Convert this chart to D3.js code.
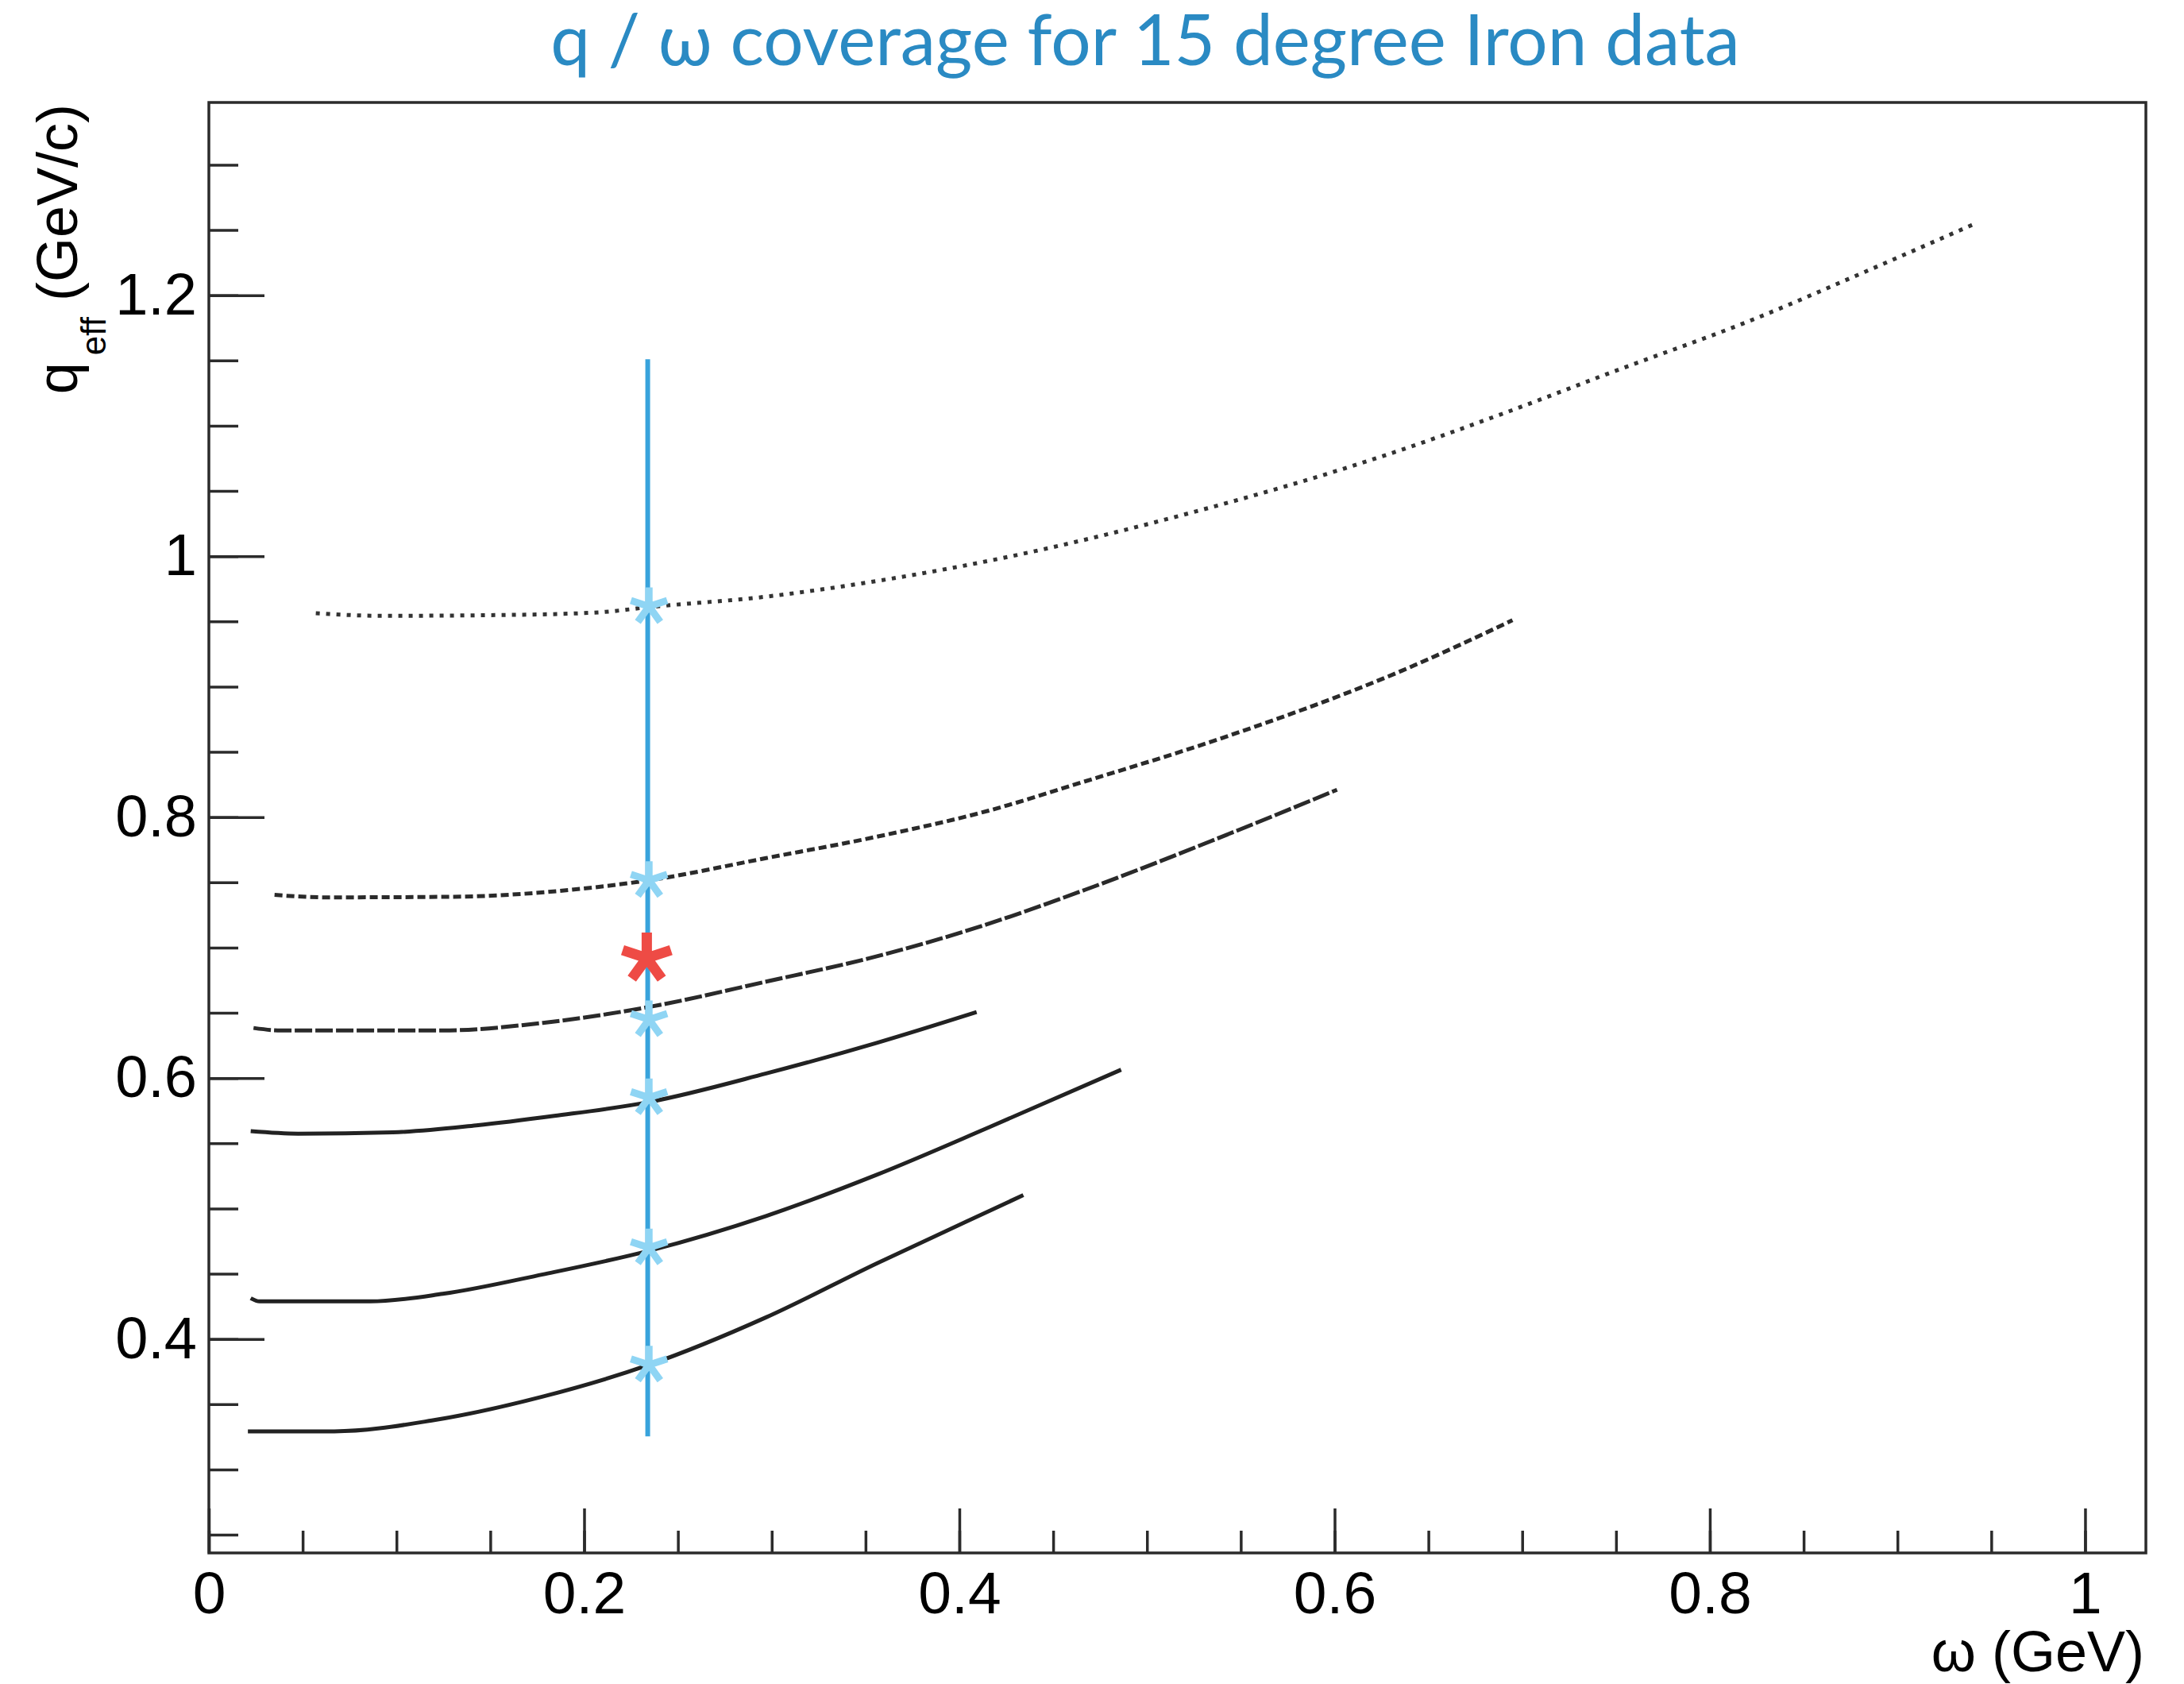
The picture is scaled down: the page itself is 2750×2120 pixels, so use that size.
<!DOCTYPE html>
<html>
<head>
<meta charset="utf-8">
<script src="https://cdn.jsdelivr.net/npm/d3@7"></script>
<style>
  body { margin: 0; background: #fff; }
  svg { display: block; }
</style>
</head>
<body>
<div id="chart"></div>
<script>
// curves: [omega (GeV), q_eff (GeV/c)]
var curve1 = [[0.057,0.9563],[0.092,0.9543],[0.160,0.955],[0.208,0.957],[0.2346,0.961],[0.297,0.969],[0.356,0.981],[0.4326,1.0015],[0.5226,1.033],[0.6283,1.078],[0.691,1.110],[0.7458,1.140],[0.824,1.182],[0.8827,1.218],[0.9414,1.255]];
var curve2 = [[0.035,0.7404],[0.0624,0.7385],[0.1307,0.739],[0.193,0.7443],[0.2346,0.7516],[0.297,0.7686],[0.356,0.785],[0.4157,0.805],[0.4656,0.8268],[0.5422,0.8617],[0.6361,0.9124],[0.6948,0.9509]];
var curve3 = [[0.0238,0.6384],[0.0386,0.6365],[0.1247,0.6365],[0.178,0.6423],[0.2346,0.6545],[0.297,0.6739],[0.356,0.6933],[0.4107,0.716],[0.4672,0.7444],[0.5434,0.787],[0.6013,0.821]];
var curve4 = [[0.0223,0.5593],[0.0475,0.5574],[0.098,0.5584],[0.1425,0.5637],[0.1841,0.571],[0.2346,0.5816],[0.297,0.6035],[0.356,0.627],[0.4092,0.6506]];
var curve5 = [[0.0223,0.4312],[0.027,0.4288],[0.0861,0.4288],[0.1247,0.4346],[0.178,0.4495],[0.2346,0.4676],[0.297,0.4943],[0.356,0.5259],[0.4157,0.5622],[0.4862,0.6064]];
var curve6 = [[0.0208,0.3292],[0.0668,0.3292],[0.1188,0.3375],[0.178,0.3559],[0.2346,0.3802],[0.297,0.4166],[0.356,0.458],[0.4038,0.490],[0.4341,0.5103]];

// vertical cut and the marked points
var cutOmega = 0.2339;
var cutRange = [0.3254, 1.151];
var starOmega = 0.2346;
var starQ = [0.9615, 0.7516, 0.6449, 0.585, 0.47, 0.3802];
var redStar = [0.2334, 0.692];

var xTicks = [0, 0.2, 0.4, 0.6, 0.8, 1];
var yTicks = [0.4, 0.6, 0.8, 1, 1.2];
var xMinor = d3.range(0, 1.0324, 0.05);
var yMinor = d3.range(0.25, 1.348, 0.05);

var width = 2750, height = 2120;
var margin = { top: 129, right: 48, bottom: 165, left: 263 };

var svg = d3.select("#chart").append("svg")
    .attr("width", width)
    .attr("height", height);

var x = d3.scaleLinear()
    .domain([0, 1.0324])
    .range([margin.left, width - margin.right]);

var y = d3.scaleLinear()
    .domain([0.236, 1.3478])
    .range([height - margin.bottom, margin.top]);

// title
svg.append("text")
    .attr("x", 1442)
    .attr("y", 82)
    .attr("text-anchor", "middle")
    .attr("fill", "#2a8ac3")
    .style("font-family", "Lato, 'Open Sans', sans-serif")
    .style("font-size", "89px")
    .text("q / \u03c9 coverage for 15 degree Iron data");

// frame
svg.append("rect")
    .attr("x", x(0))
    .attr("y", y(1.3478))
    .attr("width", x(1.0324) - x(0))
    .attr("height", y(0.236) - y(1.3478))
    .attr("fill", "none")
    .attr("stroke", "#2b2b2b")
    .attr("stroke-width", 3.5);

// minor ticks
svg.append("g")
    .attr("transform", `translate(${x(0)},0)`)
    .call(d3.axisLeft(y).tickValues(yMinor).tickSizeInner(-37).tickSizeOuter(0).tickFormat(""))
    .call(g => g.select(".domain").remove())
    .selectAll("line").attr("stroke", "#2b2b2b").attr("stroke-width", 3.5);

svg.append("g")
    .attr("transform", `translate(0,${y(0.236)})`)
    .call(d3.axisBottom(x).tickValues(xMinor).tickSizeInner(-28).tickSizeOuter(0).tickFormat(""))
    .call(g => g.select(".domain").remove())
    .selectAll("line").attr("stroke", "#2b2b2b").attr("stroke-width", 3.5);

// major ticks with labels
var yAxis = svg.append("g")
    .attr("transform", `translate(${x(0)},0)`)
    .call(d3.axisLeft(y).tickValues(yTicks).tickSizeInner(-70).tickSizeOuter(0).tickPadding(15).tickFormat(d3.format("")))
    .call(g => g.select(".domain").remove());
yAxis.selectAll("line").attr("stroke", "#2b2b2b").attr("stroke-width", 3.5);
yAxis.selectAll("text")
    .attr("fill", "#000")
    .style("font-family", "'Liberation Sans', Arial, sans-serif")
    .style("font-size", "74px");

var xAxis = svg.append("g")
    .attr("transform", `translate(0,${y(0.236)})`)
    .call(d3.axisBottom(x).tickValues(xTicks).tickSizeInner(-56).tickSizeOuter(0).tickPadding(23).tickFormat(d3.format("")))
    .call(g => g.select(".domain").remove());
xAxis.selectAll("line").attr("stroke", "#2b2b2b").attr("stroke-width", 3.5);
xAxis.selectAll("text")
    .attr("fill", "#000")
    .style("font-family", "'Liberation Sans', Arial, sans-serif")
    .style("font-size", "75px");

// axis titles
svg.append("text")
    .attr("x", 2700)
    .attr("y", 2104)
    .attr("text-anchor", "end")
    .attr("fill", "#000")
    .style("font-family", "'Liberation Sans', Arial, sans-serif")
    .style("font-size", "72px")
    .text("\u03c9 (GeV)");

var yTitle = svg.append("text")
    .attr("transform", "translate(97,131) rotate(-90)")
    .attr("text-anchor", "end")
    .attr("fill", "#000")
    .style("font-family", "'Liberation Sans', Arial, sans-serif")
    .style("font-size", "72px");
yTitle.append("tspan").text("q");
yTitle.append("tspan").attr("dy", 36).attr("dx", 9).style("font-size", "44px").text("eff");
yTitle.append("tspan").attr("dy", -36).attr("dx", 20).text("(GeV/c)");

// curves
var line = d3.line()
    .x(d => x(d[0]))
    .y(d => y(d[1]))
    .curve(d3.curveMonotoneX);

var curves = [
    { data: curve1, dash: "5 8", color: "#333" },
    { data: curve2, dash: "10 5", color: "#2a2a2a" },
    { data: curve3, dash: "22 4", color: "#2a2a2a" },
    { data: curve4, dash: null, color: "#222" },
    { data: curve5, dash: null, color: "#222" },
    { data: curve6, dash: null, color: "#222" }
];

svg.selectAll("path.curve")
    .data(curves)
    .enter()
    .append("path")
    .attr("class", "curve")
    .attr("d", d => line(d.data))
    .attr("fill", "none")
    .attr("stroke", d => d.color)
    .attr("stroke-width", 5)
    .attr("stroke-dasharray", d => d.dash);

// vertical cut line
svg.append("line")
    .attr("x1", x(cutOmega))
    .attr("x2", x(cutOmega))
    .attr("y1", y(cutRange[0]))
    .attr("y2", y(cutRange[1]))
    .attr("stroke", "#38a3dc")
    .attr("stroke-width", 6);

// five-armed asterisk
var asterisk = {
    draw: function(context, size) {
        var r = Math.sqrt(size);
        for (var i = 0; i < 5; i++) {
            var a = -Math.PI / 2 + i * 2 * Math.PI / 5;
            context.moveTo(0, 0);
            context.lineTo(r * Math.cos(a), r * Math.sin(a));
        }
    }
};

svg.selectAll("path.star")
    .data(starQ)
    .enter()
    .append("path")
    .attr("class", "star")
    .attr("transform", d => `translate(${x(starOmega)},${y(d)})`)
    .attr("d", d3.symbol().type(asterisk).size(24 * 24))
    .attr("fill", "none")
    .attr("stroke", "#8fd5f4")
    .attr("stroke-width", 9);

svg.append("path")
    .attr("transform", `translate(${x(redStar[0])},${y(redStar[1])})`)
    .attr("d", d3.symbol().type(asterisk).size(32 * 32))
    .attr("fill", "none")
    .attr("stroke", "#ee4b45")
    .attr("stroke-width", 13);
</script>
</body>
</html>
